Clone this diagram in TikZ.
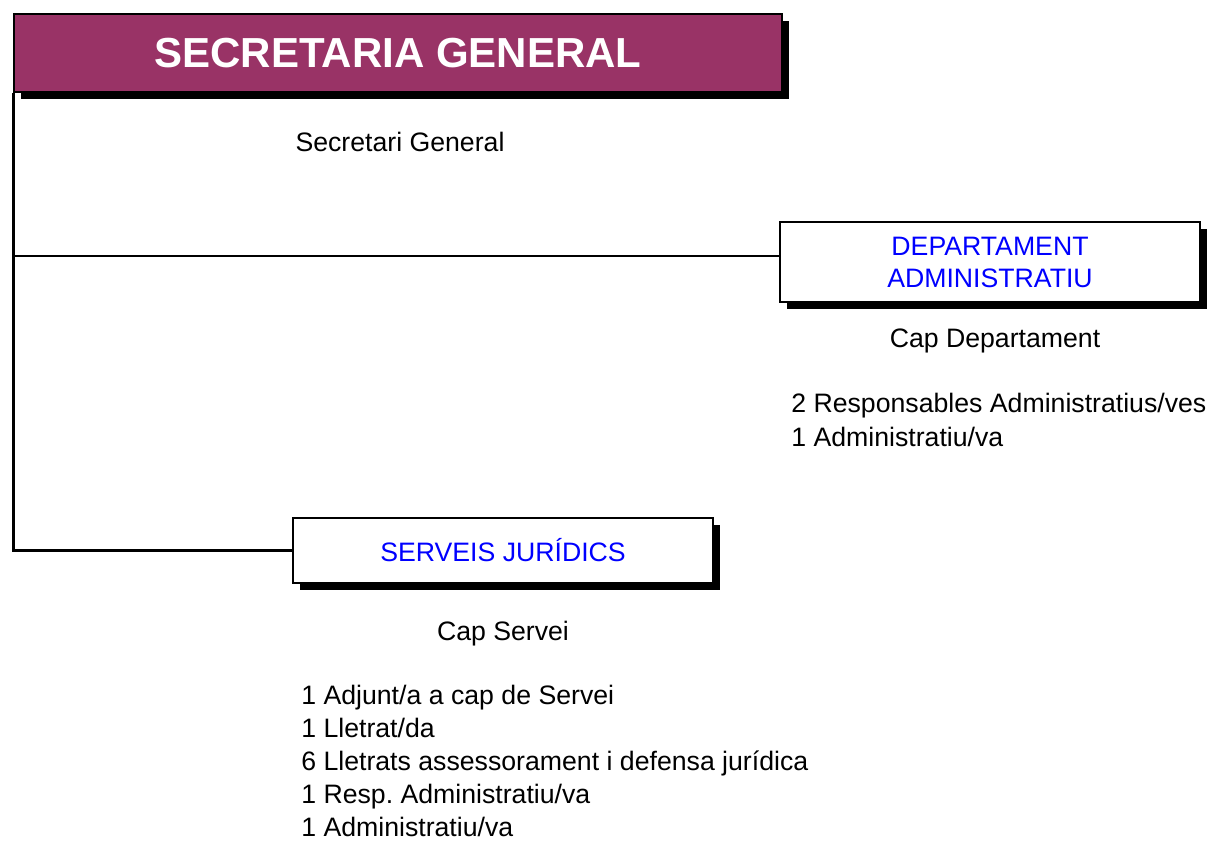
\documentclass[tikz,border=0pt]{standalone}
\usepackage{fontspec}
\setmainfont{Liberation Sans}
\usepackage{xcolor}
\usetikzlibrary{shadows}

\definecolor{sgpurple}{HTML}{993366}
\definecolor{unitblue}{HTML}{0000FF}
\frenchspacing

\begin{document}
\begin{tikzpicture}[x=0.75pt,y=-0.75pt,line width=2pt,
    unitbox/.style={draw,line width=1.1pt,fill=white,inner sep=0pt,minimum width=315pt,
      align=center,text=unitblue,font=\fontsize{20}{24}\selectfont,
      drop shadow={shadow xshift=5.25pt,shadow yshift=-5.25pt,fill=black,opacity=1}},
    headbox/.style={unitbox,fill=sgpurple,text=white,minimum width=576pt,minimum height=58.5pt,
      font=\fontsize{31.5}{36}\selectfont\bfseries},
    staff/.style={font=\fontsize{20}{24}\selectfont,inner sep=0pt}]
  \useasboundingbox (0,0) rectangle (1213,840);

  % units
  \node[headbox]                      (sg) at (398,53)    {SECRETARIA GENERAL};
  \node[unitbox,minimum height=60pt,text depth=0pt]  (da) at (990,262)   {DEPARTAMENT\\ADMINISTRATIU};
  \node[unitbox,minimum height=48.75pt] (sj) at (503,550.5) {SERVEIS JURÍDICS};

  % connectors
  \coordinate (sgfoot) at (sg.south west);
  \coordinate (trunk)  at (sgfoot |- sj.west);
  \coordinate (daline) at ([yshift=4.5pt]da.west);
  \draw (sgfoot) -- (trunk) -- (sj.west);
  \draw (sgfoot |- daline) -- (daline);

  % staff
  \node[staff,anchor=base]      (sgcap) at (400,151) {Secretari General};
  \node[staff,anchor=base]      (dacap) at (995,347) {Cap Departament};
  \node[staff,anchor=base west] (da1)   at (790,412) {2 Responsables Administratius/ves};
  \node[staff,anchor=base west] (da2)   at (790,446) {1 Administratiu/va};
  \node[staff,anchor=base]      (sjcap) at (503,640) {Cap Servei};
  \foreach \t [count=\i] in {1 Adjunt/a a cap de Servei, 1 Lletrat/da,
      6 Lletrats assessorament i defensa jurídica, 1 Resp. Administratiu/va,
      1 Administratiu/va}
    \node[staff,anchor=base west] (sj\i) at (300,{672+32.8*\i}) {\t};
\end{tikzpicture}
\end{document}
